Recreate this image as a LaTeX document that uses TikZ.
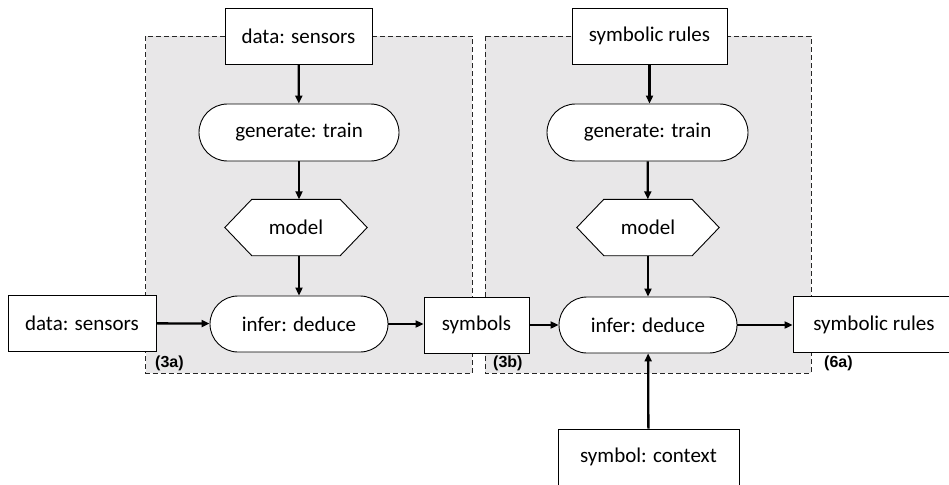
\documentclass[tikz,border=0pt]{standalone}
\usepackage{fontspec}
\setmainfont{Carlito}
\newfontfamily\tagfont{Liberation Sans}
\usetikzlibrary{arrows.meta}
\definecolor{panelgray}{HTML}{E8E7E8}
\tikzset{
  x=1pt, y=-1pt,
  every node/.style={font=\fontsize{21}{25}\selectfont, inner sep=0pt},
  panel/.style={draw=black!85, dashed, dash pattern=on 5pt off 3pt, line width=0.9pt, fill=panelgray},
  databox/.style={draw, fill=white, line width=0.9pt, minimum height=56pt},
  stadium/.style={draw, fill=white, line width=0.9pt, minimum width=200pt, minimum height=57pt, rounded corners=28.5pt},
  hexbox/.style={minimum width=142pt, minimum height=56pt},
  tagtext/.style={font=\tagfont\bfseries\fontsize{16}{18}\selectfont, anchor=west},
  flow/.style={line width=2.3pt, -{Triangle[length=8pt,width=7pt]}, shorten >=0pt}
}
\newcommand{\hexoutline}[1]{%
  \filldraw[fill=white, line width=0.9pt]
    (#1.west) -- ([xshift=27pt]#1.north west) -- ([xshift=-27pt]#1.north east)
    -- (#1.east) -- ([xshift=-27pt]#1.south east) -- ([xshift=27pt]#1.south west) -- cycle;}
\begin{document}
\begin{tikzpicture}
\useasboundingbox (0,0) rectangle (949,484);
\clip (0,0) rectangle (949,484);

% dashed panels
\path[panel] (145.5,36) rectangle (472,373);
\path[panel] (485,36) rectangle (811,373);

% left pipeline
\node[databox, minimum width=147pt] (srcA) at (298.5,36) {data: sensors};
\node[stadium] (genA) at (299,132.5) {generate: train};
\node[hexbox] (modA) at (296,227.5) {};
\hexoutline{modA}
\node at (modA) {model};
\node[stadium, minimum width=178pt, minimum height=56pt, rounded corners=28pt] (infA) at (299,324) {infer: deduce};
\node[databox, minimum width=148pt] (inA) at (82,323) {data: sensors};
\node[databox, minimum width=105pt] (sym) at (476.5,325) {symbols};

% right pipeline
\node[databox, minimum width=155pt] (srcB) at (649.5,36) {symbolic rules};
\node[stadium, minimum width=201pt] (genB) at (647.5,132.5) {generate: train};
\node[hexbox] (modB) at (648,227.5) {};
\hexoutline{modB}
\node at (modB) {model};
\node[stadium, minimum width=178pt, minimum height=56pt, rounded corners=28pt] (infB) at (648,325) {infer: deduce};
\node[databox, minimum width=162pt] (outB) at (874,324.5) {symbolic rules};
\node[databox, minimum width=181pt] (ctx) at (648.5,457) {symbol: context};

% panel tags
\node[tagtext] (tagA) at (155,363) {(3a)};
\node[tagtext] (tagB) at (493,363) {(3b)};
\node[tagtext] (tagC) at (824,363) {(6a)};

% connectors
\draw[flow] (srcA) -- (genA);
\draw[flow] (genA) -- (modA.north -| genA);
\draw[flow] (modA.south -| genA) -- (infA);
\draw[flow] (inA) -- (infA);
\draw[flow] (infA) -- (sym.west |- infA);
\draw[flow] (sym) -- (infB);
\draw[flow] (srcB) -- (genB.north -| srcB);
\draw[flow] (genB) -- (modB);
\draw[flow] (modB) -- (infB);
\draw[flow] (infB) -- (outB.west |- infB);
\draw[flow] (ctx) -- (infB);
\end{tikzpicture}
\end{document}
